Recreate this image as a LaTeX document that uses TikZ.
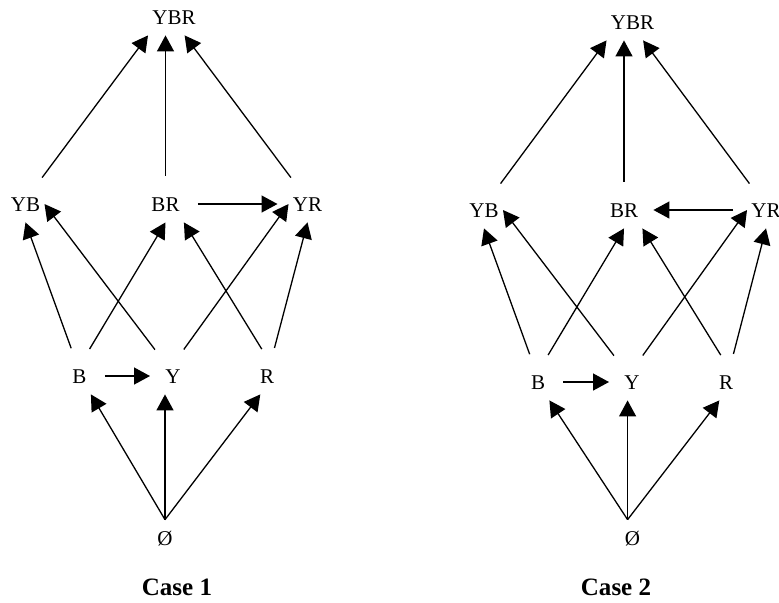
\documentclass[tikz,border=0pt]{standalone}
\usepackage{fontspec}
\setmainfont{Liberation Serif}
\usetikzlibrary{arrows.meta,calc}

\tikzset{
    elem/.style={inner xsep=2pt, inner ysep=5.5pt, text height=7pt, text depth=0pt, font=\fontsize{10.5}{12}\selectfont},
    arr/.style={-{Triangle[length=8pt,width=8.5pt]}, line width=0.65pt, shorten <=5pt},
    harr/.style={arr, shorten <=7pt, shorten >=5.5pt},
    caselabel/.style={font=\fontsize{12.5}{14}\selectfont\bfseries}
}

\begin{document}
\begin{tikzpicture}[x=0.5pt, y=-0.5pt]
    \useasboundingbox (0,0) rectangle (779,602);

    % Case 1
    \begin{scope}
        \node[elem] (ybr1) at (174,17) {YBR};
        \node[elem] (yb1) at (25.5,204) {YB};
        \node[elem] (br1) at (165.5,204) {BR};
        \node[elem] (yr1) at (307.5,204) {YR};
        \node[elem] (b1) at (79.5,376) {B};
        \node[elem] (y1) at (173,376) {Y};
        \node[elem] (r1) at (267,376) {R};
        \node[elem] (e1) at (165,538) {Ø};
        \node[caselabel] (c1) at (177,587) {Case 1};

        \draw[arr] (yb1.60) -- (ybr1.south west);
        \draw[arr] (br1.north) -- (br1.north |- ybr1.south);
        \draw[arr] (yr1.120) -- (ybr1.300);
        \draw[harr] (br1.east) -- (yr1.west);
        \draw[arr] (b1.105) -- (yb1.south);
        \draw[arr] (y1.north west) -- (yb1.east);
        \draw[arr] (b1.75) -- (br1.south);
        \draw[arr] (r1.north) -- (br1.south east);
        \draw[arr] (y1.75) -- (yr1.west);
        \draw[arr] (r1.75) -- (yr1.south);
        \draw[harr] (b1.east) -- (y1.west);
        \draw[arr, shorten <=0pt] (e1.north) -- (b1.south east);
        \draw[arr, shorten <=0pt] (e1.north) -- (e1.north |- y1.south);
        \draw[arr, shorten <=0pt] (e1.north) -- (r1.250);
    \end{scope}

    % Case 2
    \begin{scope}[xshift=229.25pt, yshift=-3pt]
        \node[elem] (ybr2) at (174,16) {YBR};
        \node[elem] (yb2) at (25.5,204) {YB};
        \node[elem] (br2) at (165.5,204) {BR};
        \node[elem] (yr2) at (307.5,204) {YR};
        \node[elem] (b2) at (79.5,376) {B};
        \node[elem] (y2) at (173.5,376) {Y};
        \node[elem] (r2) at (267.5,376) {R};
        \node[elem] (e2) at (174,532) {Ø};
        \node[caselabel] (c2) at (157.5,581) {Case 2};

        \draw[arr] (yb2.60) -- (ybr2.south west);
        \draw[arr] (br2.north) -- (br2.north |- ybr2.south);
        \draw[arr] (yr2.120) -- (ybr2.300);
        \draw[harr] (yr2.west) -- (br2.east);
        \draw[arr] (b2.105) -- (yb2.south);
        \draw[arr] (y2.north west) -- (yb2.east);
        \draw[arr] (b2.75) -- (br2.south);
        \draw[arr] (r2.north) -- (br2.south east);
        \draw[arr] (y2.75) -- (yr2.west);
        \draw[arr] (r2.75) -- (yr2.south);
        \draw[harr] (b2.east) -- (y2.west);
        \draw[arr, shorten <=0pt] (e2.105) -- (b2.south east);
        \draw[arr, shorten <=0pt] (e2.105) -- (e2.105 |- y2.south);
        \draw[arr, shorten <=0pt] (e2.105) -- (r2.250);
    \end{scope}
\end{tikzpicture}
\end{document}
